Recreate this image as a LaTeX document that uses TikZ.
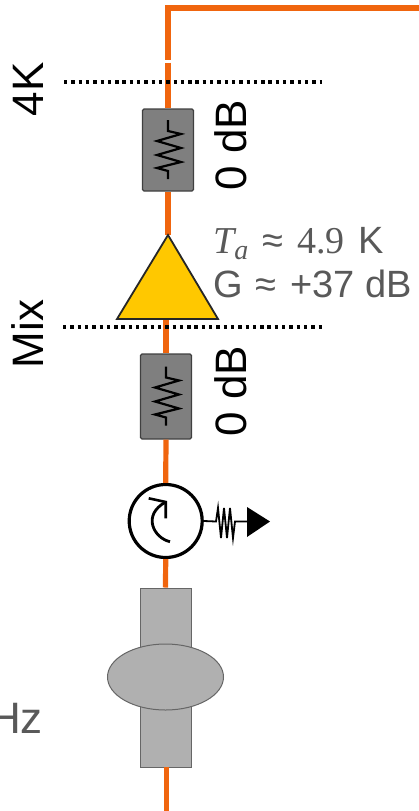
\documentclass[tikz,border=0pt]{standalone}
\usepackage{fontspec}
\setmainfont{Liberation Sans}
\newfontfamily\serifone{Liberation Serif}
\usetikzlibrary{shapes.geometric,calc}
\definecolor{wire}{HTML}{F0650E}
\definecolor{txtgray}{HTML}{595959}
\definecolor{resgray}{HTML}{7F7F7F}
\definecolor{filtgray}{HTML}{B0B0B0}
\definecolor{ampyellow}{HTML}{FFC800}
\tikzset{
  x=1pt,y=-1pt,
  wireline/.style={draw=wire,line width=5.2pt},
  dotline/.style={draw=black,line width=3.4pt,dash pattern=on 3.4pt off 3.9pt},
  resbox/.style={draw=black!75,line width=1.4pt,fill=resgray,rounded corners=1.5pt,minimum width=51pt,minimum height=82pt,inner sep=0pt},
  zig/.style={draw=black,line width=2.2pt,line join=miter},
  rotlabel/.style={rotate=90,anchor=base,font=\fontsize{44}{44}\selectfont,text=black,inner sep=0pt},
  graylabel/.style={font=\fontsize{38}{38}\selectfont,text=txtgray,inner sep=0pt,anchor=base west},
  filt/.style={draw=black!60,line width=1pt,fill=filtgray,inner sep=0pt},
}
\begin{document}
\begin{tikzpicture}
\useasboundingbox (0,0) rectangle (419,811);
\clip (0,0) rectangle (419,811);
\coordinate (topright) at (419,8);
\coordinate (corner) at (168,8);
\coordinate (gapa) at (168,60);
\coordinate (gapb) at (168,62.5);
\coordinate (bottom) at (166.5,811);
% components
\node[resbox] (resA) at (168,150) {};
\node[resbox,minimum height=85pt] (resB) at (166,396.5) {};
\coordinate (ampapex) at (168,235);
\coordinate (ampl) at (117,319);
\coordinate (ampr) at (218,319);
\coordinate (ampbot) at (166,319);
\node[draw=black,line width=3.2pt,fill=white,circle,minimum size=73pt,inner sep=0pt] (circ) at (165.7,521) {};
\node[filt,minimum width=51pt,minimum height=179pt] (filtbody) at (165.5,677.5) {};
\node[filt,ellipse,minimum width=116pt,minimum height=66pt] (filtoval) at (165.5,677) {};
\coordinate (filtout) at (166.5,767);
% wires
\draw[wireline,line join=miter] (topright) -- (corner) -- (gapa);
\draw[wireline] (gapb) -- (resA.north);
\draw[wireline] (resA.south) -- (ampapex);
\draw[wireline] (ampbot) -- (resB.north);
\draw[wireline] (resB.south) -- (circ.north);
\draw[wireline] (filtout) -- (bottom);
\draw[wireline] (circ.south) -- (filtbody.north);
% amplifier
\draw[draw=black!85,line width=1.8pt,fill=ampyellow,line join=miter] (ampapex) -- (ampr) -- (ampl) -- cycle;
% stage lines
\coordinate (dotAl) at (64,82); \coordinate (dotAr) at (322,82);
\coordinate (dotBl) at (63,327); \coordinate (dotBr) at (322,327);
\draw[dotline] (dotAl) -- (dotAr);
\draw[dotline] (dotBl) -- (dotBr);
% resistor glyphs
\foreach \c in {resA,resB}{
  \draw[zig] ($(\c.center)+(0,-30)$) -- ++(0,11) -- ++(13,3) -- ++(-24,7) -- ++(24,7) -- ++(-24,7) -- ++(24,7) -- ++(-24,6) -- ++(11,3) -- ++(0,8);
}
% circulator
\draw[draw=black,line width=2.8pt] ($(circ.center)+(4.3,20.7)$) .. controls ($(circ.center)+(-12,17)$) and ($(circ.center)+(-24,-6)$) .. ($(circ.center)+(0,-19)$);
\draw[draw=black,line width=2.6pt,line join=miter] ($(circ.center)+(-17,-22.7)$) -- ($(circ.center)+(0,-19)$) -- ($(circ.center)+(0,-2.7)$);
% isolator termination
\coordinate (termtip) at (270,521.5);
\coordinate (termt) at (247,507);
\coordinate (termb) at (247,537);
\coordinate (termmid) at (247,521.5);
\fill[black] (termt) -- (termtip) -- (termb) -- cycle;
\draw[draw=black,line width=1.8pt] (circ.east) -- (216,521.5) -- (218,508) -- (221,538) -- (224,508) -- (227,538) -- (230,508) -- (233,538) -- (235,521.5) -- (termmid);
% labels
\node[rotlabel] (lab4k) at (43,89.5) {4K};
\node[rotlabel] (labmix) at (43,334) {Mix};
\node[rotlabel] (labdba) at (246.5,145) {0 dB};
\node[rotlabel] (labdbb) at (246.5,391) {0 dB};
\node[graylabel] (labta) at (213,253) {{\serifone\itshape T}\raisebox{-6pt}{\fontsize{28}{28}\selectfont\serifone\itshape a}\hskip 14pt≈\hskip 14pt{\serifone 4.9}\hskip 14pt K};
\node[graylabel] (labg) at (213,297) {G\hskip 13pt≈\hskip 14pt+37 dB};
\node[graylabel,anchor=base east,font=\fontsize{44}{44}\selectfont] (labhz) at (43,733) {Hz};
\end{tikzpicture}
\end{document}
